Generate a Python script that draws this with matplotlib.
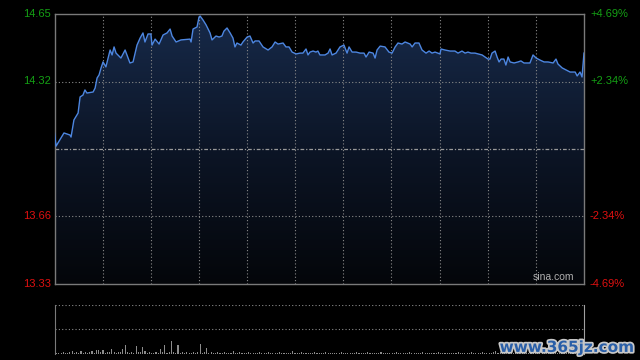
import numpy as np
import matplotlib
matplotlib.use('Agg')
import matplotlib.pyplot as plt
import matplotlib.patheffects as pe
from matplotlib.colors import LinearSegmentedColormap

# intraday price (minute from open, price)
minutes = [0, 0.7, 4.3, 7.0, 7.5, 8.8, 10.7, 11.6, 12.9, 13.8, 14.7, 17.5, 18.4, 19.3, 20.2, 21.1, 22.0, 23.3,
           25.2, 26.1, 27.0, 27.9, 30.1, 32.0, 34.2, 35.6, 37.4, 38.8, 40.1, 41.0, 42.4, 43.7, 44.2, 45.6, 47.4,
           49.2, 51.0, 52.4, 53.3, 55.1, 57.3, 61.4, 61.9, 62.8, 64.6, 65.5, 66.0, 67.3, 68.7, 70.5, 71.4, 73.2,
           74.6, 75.9, 76.8, 78.2, 79.6, 80.9, 81.8, 82.7, 84.5, 85.4, 87.3, 88.6, 90.0, 90.9, 92.7, 94.5, 96.8,
           98.6, 100.0, 101.3, 103.6, 104.9, 106.3, 107.7, 109.5, 111.3, 112.6, 114.0, 114.9, 115.8, 117.2, 118.5,
           119.4, 120.3, 122.6, 124.0, 124.9, 125.8, 127.6, 129.4, 131.2, 132.6, 133.5, 134.9, 136.7, 138.5,
           140.3, 141.2, 142.6, 144.4, 145.3, 146.2, 147.6, 149.8, 151.6, 153.0, 154.4, 155.7, 157.5, 158.9,
           161.2, 162.1, 163.4, 165.2, 166.6, 168.4, 169.8, 171.1, 172.5, 173.8, 174.7, 175.2, 177.0, 179.3,
           181.5, 182.9, 184.7, 186.1, 187.4, 188.8, 190.6, 192.0, 193.8, 196.5, 197.4, 198.3, 199.7, 200.6,
           201.5, 202.4, 203.7, 204.6, 205.6, 206.5, 208.3, 210.1, 211.4, 212.8, 214.2, 215.5, 216.9, 218.3,
           220.1, 221.9, 223.7, 226.0, 227.3, 228.2, 230.1, 231.9, 233.7, 236.0, 236.9, 238.2, 239.1, 240]
prices = [14.068, 14.004, 14.068, 14.058, 14.048, 14.131, 14.165, 14.243, 14.252, 14.277, 14.262, 14.267, 14.286,
          14.335, 14.350, 14.384, 14.413, 14.389, 14.471, 14.447, 14.486, 14.456, 14.432, 14.471, 14.408, 14.413,
          14.495, 14.529, 14.554, 14.510, 14.549, 14.549, 14.495, 14.524, 14.500, 14.544, 14.554, 14.573, 14.539,
          14.510, 14.520, 14.524, 14.510, 14.573, 14.583, 14.631, 14.636, 14.617, 14.593, 14.554, 14.520, 14.539,
          14.534, 14.539, 14.563, 14.578, 14.554, 14.529, 14.486, 14.505, 14.495, 14.510, 14.534, 14.539, 14.505,
          14.515, 14.515, 14.486, 14.471, 14.486, 14.510, 14.500, 14.505, 14.486, 14.486, 14.461, 14.452, 14.456,
          14.456, 14.476, 14.447, 14.461, 14.466, 14.461, 14.466, 14.447, 14.447, 14.456, 14.476, 14.447, 14.456,
          14.486, 14.495, 14.456, 14.486, 14.461, 14.461, 14.456, 14.456, 14.437, 14.461, 14.456, 14.432, 14.471,
          14.490, 14.486, 14.461, 14.456, 14.486, 14.505, 14.500, 14.510, 14.500, 14.486, 14.505, 14.505, 14.471,
          14.456, 14.466, 14.456, 14.461, 14.456, 14.452, 14.476, 14.471, 14.466, 14.466, 14.456, 14.466, 14.456,
          14.461, 14.456, 14.456, 14.452, 14.447, 14.427, 14.427, 14.456, 14.466, 14.437, 14.413, 14.427, 14.427,
          14.398, 14.437, 14.413, 14.408, 14.413, 14.418, 14.408, 14.408, 14.408, 14.447, 14.432, 14.422, 14.413,
          14.413, 14.408, 14.427, 14.403, 14.384, 14.374, 14.364, 14.364, 14.345, 14.364, 14.340, 14.456]

# volume per minute (relative units)
volume = [3, 1, 1, 1, 2, 1, 1, 2, 3, 1, 2, 1, 3, 1, 2, 1, 2, 3, 1, 4,
          4, 2, 4, 1, 2, 2, 5, 2, 1, 2, 2, 5, 9, 2, 1, 2, 1, 8, 2, 2,
          7, 3, 1, 2, 1, 1, 2, 1, 5, 2, 9, 1, 2, 13, 2, 1, 9, 1, 2, 1,
          2, 1, 1, 2, 1, 2, 10, 1, 2, 6, 1, 2, 1, 1, 2, 1, 1, 2, 1, 1,
          1, 3, 1, 1, 2, 1, 1, 1, 2, 1, 1, 1, 1, 2, 1, 1, 1, 2, 1, 1,
          1, 1, 2, 1, 1, 1, 1, 1, 3, 1, 1, 1, 2, 1, 1, 1, 1, 1, 2, 1,
          1, 1, 1, 2, 1, 1, 1, 1, 1, 1, 2, 1, 1, 1, 1, 1, 1, 2, 1, 1,
          1, 1, 2, 1, 1, 1, 1, 1, 2, 1, 1, 1, 1, 1, 1, 2, 1, 1, 1, 1,
          1, 2, 1, 1, 1, 1, 1, 2, 1, 1, 1, 1, 1, 1, 2, 1, 1, 1, 1, 1,
          1, 1, 1, 2, 1, 1, 1, 1, 1, 2, 1, 1, 1, 1, 2, 1, 1, 1, 1, 2,
          3, 1, 2, 1, 1, 2, 1, 1, 1, 2, 1, 1, 2, 1, 1, 1, 2, 1, 1, 1,
          1, 2, 1, 1, 2, 1, 1, 2, 1, 1, 2, 1, 1, 2, 1, 1, 2, 1, 1, 2, 3]

prev_close = 13.99
half_range = 0.656
left_labels = ['14.65', '14.32', '13.66', '13.33']
right_labels = ['+4.69%', '+2.34%', '-2.34%', '-4.69%']
label_levels = [prev_close + half_range, prev_close + half_range / 2,
                prev_close - half_range / 2, prev_close - half_range]

green = '#14a014'
red = '#e01010'
grid_c = '#8a8a8a'

fig = plt.figure(figsize=(6.4, 3.6), dpi=100, facecolor='black')
ax = fig.add_axes([54.5 / 640, 1 - 284 / 360, 529.5 / 640, 270 / 360])
axv = fig.add_axes([54.5 / 640, 1 - 354 / 360, 529.5 / 640, 49.5 / 360])

ymin, ymax = prev_close - half_range, prev_close + half_range
ax.set_facecolor('black')
ax.set_xlim(0, 240)
ax.set_ylim(ymin, ymax)

# gradient fill under the price line
cmap = LinearSegmentedColormap.from_list('fill', ['#04060a', '#0c1526', '#172a4a'])
grad = np.linspace(0, 1, 256).reshape(-1, 1)
img = ax.imshow(grad, cmap=cmap, origin='lower', aspect='auto',
                extent=[0, 240, ymin, ymax], zorder=1)
poly = ax.fill_between(minutes, prices, ymin, color='none', lw=0)
img.set_clip_path(poly.get_paths()[0], transform=ax.transData)

ax.plot(minutes, prices, color='#4d86e0', lw=1.0, zorder=4)

for k in range(1, 11):
    ax.axvline(240 * k / 11, color=grid_c, lw=0.8, ls=(0, (1, 2)), zorder=2)
for lv in [label_levels[1], label_levels[2]]:
    ax.axhline(lv, color=grid_c, lw=0.8, ls=(0, (1, 2)), zorder=2)
ax.axhline(prev_close, color='#9a9a9a', lw=0.9, ls=(0, (3, 1.5, 1, 1.5)), zorder=2)

for s in ax.spines.values():
    s.set_color('#7a7a7a')
    s.set_linewidth(1.0)
ax.set_xticks([])
ax.set_yticks([])

for lv, lt, rt in zip(label_levels, left_labels, right_labels):
    c = green if lv > prev_close else red
    ax.text(-3.5 / 529.5 * 240, lv, lt, color=c, fontsize=8, ha='right', va='center',
            family='Liberation Sans')
    ax.text(240 + 6 / 529.5 * 240, lv, rt, color=c, fontsize=8, ha='left', va='center',
            family='Liberation Sans')

ax.text(0.982, 0.008, 'sina.com', transform=ax.transAxes, color='#b0b0b0', fontsize=7.5,
        ha='right', va='bottom', family='Liberation Sans', zorder=5)

# volume panel
axv.set_facecolor('black')
axv.bar(np.arange(len(volume)), volume, width=0.5, color='#8c8c8c', lw=0)
axv.set_xlim(0, 240)
axv.set_ylim(0, 50)
axv.axhline(50, color=grid_c, lw=0.8, ls=(0, (1, 2)))
axv.axhline(25, color=grid_c, lw=0.8, ls=(0, (1, 2)))
for name in ['top', 'bottom']:
    axv.spines[name].set_visible(False)
axv.spines['left'].set_color('#7a7a7a')
axv.spines['right'].set_color('#a0a0a0')
axv.set_xticks([])
axv.set_yticks([])

fig.text(0.99, 0.035, 'www.365jz.com', color='#2a5fa8', fontsize=11, fontweight='bold',
         ha='right', va='center', family='DejaVu Sans',
         path_effects=[pe.withStroke(linewidth=2.5, foreground='#c8c8c8')])

fig.savefig('out.png', dpi=100, facecolor='black')
